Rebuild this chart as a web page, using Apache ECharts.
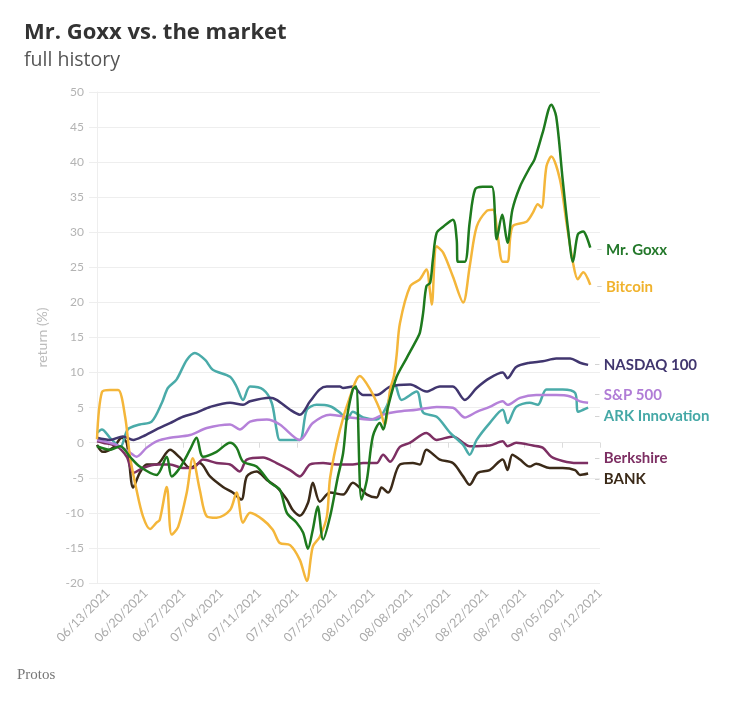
<!DOCTYPE html>
<html>
<head>
<meta charset="utf-8">
<script src="https://cdn.jsdelivr.net/npm/echarts@6/dist/echarts.min.js"></script>
<style>html,body{margin:0;padding:0;background:#fff;}#c{width:731px;height:711px;}</style>
</head>
<body>
<div id="c"></div>
<script>
// x = days since 06/11/2021
const tickDays = [2, 9, 16, 23, 30, 37, 44, 51, 58, 65, 72, 79, 86, 93];
const tickLabels = ['06/13/2021','06/20/2021','06/27/2021','07/04/2021','07/11/2021','07/18/2021','07/25/2021','08/01/2021','08/08/2021','08/15/2021','08/22/2021','08/29/2021','09/05/2021','09/12/2021'];
const yTicks = [-20, 50, 5];

const goxx = [[0,-0.5],[2.4,-1],[4.3,-0.5],[6.1,-2],[7.9,-3.4],[11.0,-4.6],[12.9,-2],[13.8,-4.8],[15.3,-3.6],[17.2,-1],[18.4,0.7],[19.6,-2],[22.1,-1.3],[24.6,0],[25.8,-0.7],[27.0,-2.7],[29.5,-3.4],[32.0,-5.7],[33.8,-6.7],[35.1,-10],[36.9,-11.4],[38.1,-12.8],[39.0,-15.1],[39.9,-12.4],[40.8,-9.1],[41.8,-13.8],[43.1,-10.5],[44.5,-5],[45.5,-1.5],[46.2,3.5],[47.3,7.6],[47.9,8],[48.9,-8.1],[49.9,-5.3],[51.0,0.9],[52.3,2.8],[52.9,1.9],[53.8,5.1],[55.4,9.4],[57.2,12],[59.1,14.7],[59.7,15.7],[60.3,18.5],[60.9,22.3],[61.6,22.8],[62.1,26.1],[62.8,29.9],[64.0,30.8],[65.8,31.8],[66.5,29],[66.7,25.8],[68.0,25.8],[68.9,31.4],[69.9,36.1],[71.3,36.5],[73.0,36.5],[73.9,29],[74.9,32.5],[75.9,28.5],[76.8,33.2],[78.2,36.5],[80.0,39.2],[80.9,40.4],[82.4,44.2],[84.0,48.2],[84.9,46.5],[86.1,37.5],[87.1,30.4],[88.0,25.8],[88.9,29.7],[89.9,30.1],[90.5,29.4],[91.2,27.8]];
const bitcoin = [[0,0.5],[0.9,7.2],[2.4,7.5],[3.9,7.5],[5.2,3.7],[6.1,-2],[7.3,-6.7],[8.5,-10.5],[9.8,-12.3],[11.0,-11.4],[11.6,-11.0],[12.9,-6.3],[13.8,-13.1],[15.0,-12],[16.6,-7.1],[17.7,-2.2],[19.0,-6.7],[20.3,-10.5],[22.1,-10.7],[24.6,-9.6],[25.8,-7.1],[27.0,-11.4],[28.3,-10],[30.7,-11],[32.5,-12.4],[33.8,-14.3],[35.7,-14.6],[37.5,-16.7],[38.8,-19.7],[39.9,-14.8],[41.2,-13.4],[42.5,-10.5],[43.1,-5],[44.9,1.8],[46.8,6.6],[48.6,9.5],[50.5,7.6],[52.3,4.7],[53.2,2.6],[54.2,7.6],[54.9,9.5],[55.4,12.5],[56.0,17],[57.9,22.3],[59.7,23.3],[60.9,24.7],[61.6,21.4],[61.9,19.7],[62.8,28],[64.0,27.1],[65.8,23.7],[67.7,20],[68.9,25.1],[70.2,30.8],[72.0,33],[73.2,33.2],[74.1,29.4],[75.0,25.8],[75.9,25.8],[76.8,30.8],[79.4,31.5],[80.6,32.8],[81.5,34],[82.2,33.5],[83.1,39.4],[84.0,40.8],[85.6,37.5],[86.8,31.4],[88.0,25.7],[88.9,23.3],[89.9,24.3],[91.2,22.5]];
const nasdaq = [[0,0.7],[2.4,0.4],[4.8,0.9],[6.7,0.4],[8.5,0.9],[11.0,1.9],[13.5,2.8],[15.9,3.7],[18.4,4.3],[20.9,5.1],[24.6,5.7],[27.0,5.4],[28.3,5.9],[32.0,6.4],[33.2,6.1],[35.7,4.7],[37.5,4.0],[39.4,5.9],[41.2,7.6],[42.5,8],[44.9,8],[45.5,7.8],[47.3,8],[49.2,6.8],[51.7,6.8],[54.2,8],[57.9,8.3],[60.9,7.3],[63.4,8],[65.8,8],[68.0,6.1],[70.2,7.8],[72.6,9.2],[75.0,10],[75.9,9.2],[77.5,10.8],[80.0,11.4],[82.4,11.6],[84.9,12],[87.5,12],[89.3,11.4],[90.8,11.1]];
const sp500 = [[0,0.4],[3.6,-0.3],[6.1,-1.4],[7.3,-2],[9.2,-0.7],[11.0,0.2],[13.5,0.7],[17.2,1.1],[20.3,2.1],[24.6,2.6],[26.4,1.9],[28.3,3],[31.4,3.3],[33.8,2.6],[37.5,0.4],[39.9,2.8],[43.1,4],[46.8,3.6],[50.5,3.3],[52.9,4],[55.4,4.4],[59.1,4.7],[62.8,5.1],[65.8,5],[68.0,3.6],[70.2,4.4],[72.6,5.1],[75.0,5.9],[75.9,5.4],[78.2,6.4],[81.2,6.8],[84.9,6.8],[87.5,6.6],[89.3,5.9],[90.8,5.7]];
const ark = [[0,1.4],[0.9,1.9],[2.4,0.7],[4.3,-0.6],[5.7,1.9],[7.9,2.6],[10.1,3],[12.0,5.7],[13.1,7.8],[14.7,9],[16.6,11.8],[18.1,12.8],[20.0,11.8],[21.4,10.4],[24.6,9.4],[25.8,8],[27.0,6.1],[28.3,8],[30.7,7.6],[32.3,5.7],[33.2,1.9],[33.8,0.4],[35.7,0.4],[37.5,0.4],[38.8,4.7],[40.6,5.4],[43.1,5.2],[44.9,4.3],[46.2,3.3],[47.3,4.4],[49.2,3.6],[51.7,3.3],[53.5,5.1],[55.1,8.3],[56.3,6.1],[59.1,7.3],[60.3,4.3],[62.8,3.7],[65.3,1.4],[67.7,-0.3],[68.9,-1.7],[70.2,0.4],[72.6,2.8],[75.0,4.7],[75.9,2.8],[77.5,5.1],[80.0,5.7],[81.5,5.4],[83.1,7.6],[86.1,7.6],[88.4,7.1],[88.9,4.4],[89.9,4.7],[90.8,5]];
const berkshire = [[0,0.2],[1.1,0],[3.6,-0.5],[5.5,-2],[6.7,-4.3],[8.5,-3.6],[11.0,-3.1],[13.5,-3.1],[15.9,-3.6],[17.7,-3.6],[19.6,-2.4],[22.1,-2.9],[24.6,-3.1],[26.4,-4.1],[27.7,-2.4],[30.7,-2.1],[33.2,-2.9],[35.7,-3.9],[37.5,-4.8],[39.4,-3.1],[41.8,-2.9],[44.3,-3.1],[47.3,-3.1],[49.2,-2.9],[51.7,-2.9],[52.9,-1.7],[54.2,-2.7],[56.0,-0.6],[57.9,0],[60.9,1.4],[62.8,0.4],[65.8,0.9],[67.7,0],[68.9,-0.5],[72.6,-0.4],[75.0,0.2],[75.9,-0.5],[77.5,0],[80.6,-0.4],[82.4,-0.7],[84.0,-2],[86.1,-2.6],[88.7,-2.9],[90.8,-2.9]];
const bank = [[0,-0.3],[1.1,-1.3],[3.0,-0.7],[4.6,0.7],[5.5,0],[6.7,-6.4],[7.9,-4.3],[9.2,-3.1],[11.0,-3.1],[13.5,-1],[15.3,-2.1],[17.2,-3.6],[19.0,-2.9],[20.9,-4.8],[23.3,-6.3],[25.1,-7.1],[26.7,-8.1],[27.7,-4.8],[29.5,-4.1],[31.4,-5.3],[33.2,-6.3],[35.1,-8.1],[36.2,-9.6],[37.5,-10.4],[39.0,-8.6],[39.9,-5.7],[41.2,-8.4],[43.1,-7.1],[45.5,-7.4],[47.3,-5.7],[49.9,-7.4],[51.7,-7.8],[52.6,-6.4],[53.8,-7.1],[56.0,-3.1],[58.4,-2.9],[59.7,-3.1],[60.9,-1],[63.4,-2.4],[65.8,-2.9],[67.7,-4.8],[68.9,-6],[70.4,-4.3],[72.6,-3.9],[75.0,-2.4],[75.9,-3.9],[76.8,-1.7],[78.2,-2.4],[80.0,-3.4],[81.2,-3],[83.7,-3.6],[86.1,-3.6],[88.4,-3.9],[89.3,-4.6],[90.8,-4.4]];

const seriesNames = ['BANK','Berkshire','ARK Innovation','S&P 500','NASDAQ 100','Bitcoin','Mr. Goxx'];
const seriesData = [bank, berkshire, ark, sp500, nasdaq, bitcoin, goxx];
const lineColors = ['#3b2a18','#7d2f63','#4aaba9','#b581d9','#41366f','#f4b63a','#1e7a1e'];
const labelColors = ['#3b2a18','#7d2f63','#45a8a6','#b07cd6','#41366f','#f0b22c','#23782a'];
const labelShift = [6, -5, 9, -8, 0, 2, 2];

const chart = echarts.init(document.getElementById('c'), null, {renderer: 'canvas'});
const FONT = 'Lato';

const series = seriesNames.map((name, i) => {
  const s = labelShift[i];
  return {
    name: name,
    type: 'line',
    data: seriesData[i],
    showSymbol: false,
    smooth: 0.3,
    lineStyle: {width: 2.5, color: lineColors[i]},
    itemStyle: {color: lineColors[i]},
    emphasis: {disabled: true},
    endLabel: {
      show: true,
      distance: 6,
      formatter: '{d|–} {n|' + name + '}',
      padding: s >= 0 ? [2 * s, 0, 0, 0] : [0, 0, -2 * s, 0],
      rich: {
        d: {color: '#c8c8c8', fontSize: 11, fontFamily: FONT},
        n: {color: labelColors[i], fontSize: 15, fontWeight: 'bold', fontFamily: FONT}
      }
    }
  };
});

chart.setOption({
  animation: false,
  backgroundColor: '#fff',
  title: [{
    text: 'Mr. Goxx vs. the market',
    subtext: 'full history',
    left: 19,
    top: 17,
    itemGap: 6,
    textStyle: {fontFamily: 'Open Sans', fontWeight: 'bold', fontSize: 22, color: '#333'},
    subtextStyle: {fontFamily: 'Open Sans', fontSize: 19.5, color: '#555'}
  }, {
    text: 'Protos',
    left: 12,
    top: 663,
    textStyle: {fontFamily: 'Liberation Serif', fontWeight: 'normal', fontSize: 15, color: '#777'}
  }],
  grid: {left: 97, right: 131, top: 92, bottom: 128, containLabel: false},
  xAxis: {
    type: 'value',
    min: 0,
    max: 93,
    axisLine: {show: true, lineStyle: {color: '#e3e3e3'}},
    axisTick: {show: true, length: 5, lineStyle: {color: '#dcdcdc'}, customValues: tickDays},
    splitLine: {show: false},
    axisLabel: {
      customValues: tickDays,
      rotate: 45,
      margin: 8,
      color: '#aaa',
      fontSize: 12.5,
      fontFamily: FONT,
      formatter: v => tickLabels[tickDays.indexOf(v)] || ''
    }
  },
  yAxis: {
    type: 'value',
    min: yTicks[0],
    max: yTicks[1],
    interval: yTicks[2],
    name: 'return (%)',
    nameLocation: 'middle',
    nameGap: 48,
    nameTextStyle: {color: '#bbb', fontSize: 14, fontFamily: FONT},
    axisLine: {show: true, lineStyle: {color: '#eeeeee'}},
    axisTick: {show: true, length: 8, lineStyle: {color: '#eeeeee'}},
    splitLine: {show: true, lineStyle: {color: '#eeeeee'}},
    axisLabel: {color: '#b3b3b3', fontSize: 12, fontFamily: FONT, margin: 13}
  },
  series: series
});
</script>
</body>
</html>
